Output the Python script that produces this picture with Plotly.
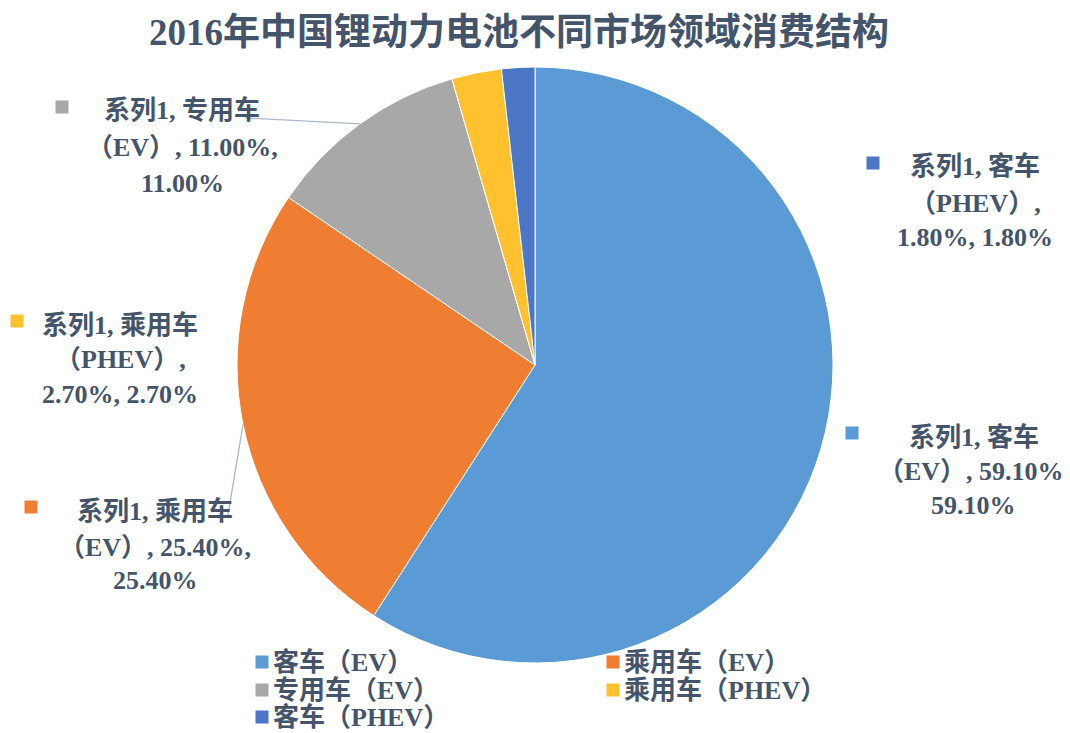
import math
import plotly.graph_objects as go

# ---------------- data ----------------
categories = ["客车（EV）", "乘用车（EV）", "专用车（EV）", "乘用车（PHEV）", "客车（PHEV）"]
values = [59.1, 25.4, 11.0, 2.7, 1.8]
series_name = "系列1"
title_text = "2016年中国锂动力电池不同市场领域消费结构"

# ---------------- style ----------------
# the page body keeps an 8px margin, so the figure is drawn 8px smaller
OFF = 8
VW, VH = 1070, 733
W, H = VW - OFF, VH - OFF
slice_colors = ["#5A9AD5", "#EF7D32", "#A8A8A8", "#FFC12E", "#4C77C7"]
text_color = "#44546A"
font_family = "Liberation Serif, Noto Sans CJK SC"
label_size = 26
legend_size = 26
title_size = 37

# pie geometry (screen pixels)
CX, CY, R = 535, 365, 298

# label layout (screen pixels): square centre, text centre x, line centre ys, break style
label_layout = [
    dict(sq=(852, 433), cx=974, ys=(437, 471, 506), style="ev"),
    dict(sq=(31, 507), cx=155, ys=(511, 547, 580), style="ev"),
    dict(sq=(62, 107), cx=182, ys=(110, 148, 184), style="ev"),
    dict(sq=(17, 321), cx=120, ys=(325, 360, 394), style="phev"),
    dict(sq=(873, 163), cx=975, ys=(166, 204, 238), style="phev"),
]
# leader lines: (slice index, label-side anchor point in screen pixels)
leaders = [(2, (245, 118)), (1, (228, 515))]
# manual legend positions: (square centre x, y) per category
legend_pos = [(262, 662), (613, 662), (262, 690), (613, 690), (262, 717)]


def px(x):
    return (x - OFF) / W


def py(y):
    return 1 - (y - OFF) / H


fig = go.Figure()
fig.add_trace(go.Pie(
    labels=categories,
    values=values,
    sort=False,
    direction="clockwise",
    rotation=0,
    marker=dict(colors=slice_colors, line=dict(color="white", width=1)),
    textinfo="none",
    hoverinfo="label+percent",
    domain=dict(x=[px(CX - R), px(CX + R)], y=[py(CY + R), py(CY - R)]),
    showlegend=False,
))

annotations = []
shapes = []


def square(cx, cy, color, s=6.5):
    shapes.append(dict(
        type="rect", xref="paper", yref="paper",
        x0=px(cx - s), x1=px(cx + s), y0=py(cy + s), y1=py(cy - s),
        fillcolor=color, line=dict(width=0),
    ))


# title
annotations.append(dict(
    text=f"<b>{title_text}</b>", x=px(519), y=py(33), xref="paper", yref="paper",
    xanchor="center", yanchor="middle", showarrow=False,
    font=dict(family=font_family, size=title_size, color=text_color),
))

# data labels
total = sum(values)
for i, (cat, val) in enumerate(zip(categories, values)):
    lay = label_layout[i]
    name, paren = cat.split("（")
    paren = "（" + paren
    pct = f"{val / total * 100:.2f}%"
    if lay["style"] == "ev":
        lines = [f"{series_name}, {name}", f"{paren}, {pct},", pct]
    else:
        lines = [f"{series_name}, {name}", f"{paren},", f"{pct}, {pct}"]
    for line, y in zip(lines, lay["ys"]):
        annotations.append(dict(
            text=f"<b>{line}</b>", x=px(lay["cx"]), y=py(y), xref="paper", yref="paper",
            xanchor="center", yanchor="middle", showarrow=False,
            font=dict(family=font_family, size=label_size, color=text_color),
        ))
    square(*lay["sq"], slice_colors[i])

# leader lines to arc midpoints
cum = [0]
for v in values:
    cum.append(cum[-1] + v)
for idx, (lx, ly) in leaders:
    mid = (cum[idx] + cum[idx + 1]) / 2 / total * 2 * math.pi
    ax = CX + R * math.sin(mid)
    ay = CY - R * math.cos(mid)
    shapes.append(dict(
        type="line", xref="paper", yref="paper",
        x0=px(lx), y0=py(ly), x1=px(ax), y1=py(ay),
        line=dict(color="#A9B8CC", width=1.3),
    ))

# legend (drawn manually for exact placement)
for i, cat in enumerate(categories):
    lx, ly = legend_pos[i]
    square(lx, ly, slice_colors[i])
    annotations.append(dict(
        text=f"<b>{cat}</b>", x=px(lx + 9), y=py(ly), xref="paper", yref="paper",
        xanchor="left", yanchor="middle", showarrow=False,
        font=dict(family=font_family, size=legend_size, color=text_color),
    ))

fig.update_layout(
    width=W, height=H,
    margin=dict(l=0, r=0, t=0, b=0),
    paper_bgcolor="white", plot_bgcolor="white",
    annotations=annotations, shapes=shapes,
    showlegend=False,
)

fig.write_html("out.html")
